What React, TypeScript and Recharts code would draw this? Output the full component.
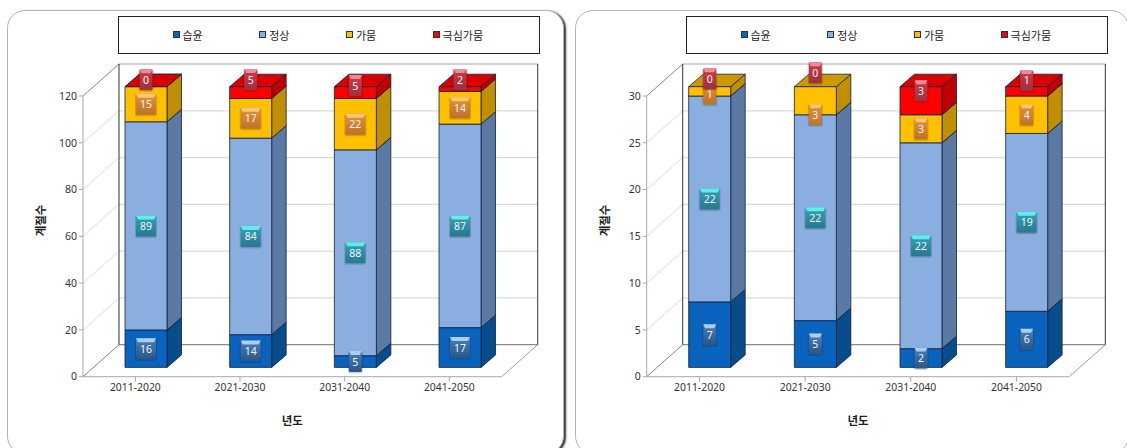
import { BarChart, Bar, XAxis, YAxis, CartesianGrid, Legend, LabelList } from "recharts";

const periods = ["2011-2020", "2021-2030", "2031-2040", "2041-2050"];
const seriesNames = ["습윤", "정상", "가뭄", "극심가뭄"];

const leftWet = [16, 14, 5, 17];
const leftNormal = [89, 84, 88, 87];
const leftDry = [15, 17, 22, 14];
const leftExtreme = [0, 5, 5, 2];
const leftTicks = [0, 20, 40, 60, 80, 100, 120];

const rightWet = [7, 5, 2, 6];
const rightNormal = [22, 22, 22, 19];
const rightDry = [1, 3, 3, 4];
const rightExtreme = [0, 0, 3, 1];
const rightTicks = [0, 5, 10, 15, 20, 25, 30];

// the badges were dragged by hand in the original, so a few sit off centre
const leftNudge = { extreme: [-7, -13, -7, -9.5], dry: [0, 0, 0, 0] };
const rightNudge = { extreme: [-8, -14, -10, -11], dry: [2.5, 14, 0, 0] };

const toRows = (wet: number[], normal: number[], dry: number[], extreme: number[]) =>
  periods.map((period, i) => ({
    period,
    wet: wet[i],
    normal: normal[i],
    dry: dry[i],
    extreme: extreme[i],
  }));

const CHART_H = 448;
const BAR_DX = 14.5;
const BAR_DY = 12.5;
const FONT = '"Noto Sans", "Noto Sans CJK KR", sans-serif';

const looks: Record<string, { front: string; side: string; top: string; badge: string }> = {
  wet: { front: "#0A63BC", side: "#084C8C", top: "#0A5AA8", badge: "wet" },
  normal: { front: "#8BAEE0", side: "#5A7AA4", top: "#7C9CCB", badge: "normal" },
  dry: { front: "#FFC000", side: "#BF8F00", top: "#CC9A00", badge: "dry" },
  extreme: { front: "#FF0000", side: "#C00000", top: "#D80000", badge: "extreme" },
};

const badgeColors: Record<string, string[]> = {
  wet: ["#4A7FB5", "#2A5688", "#A9CFEA"],
  normal: ["#35A3B5", "#27788F", "#62ECF0"],
  dry: ["#E5923C", "#BD7228", "#F7C878"],
  extreme: ["#CE3A48", "#9E3040", "#EE8C94"],
};

function Block(props: any) {
  const { x, y, width, height, look, showTop, shiftX, shiftY } = props;
  const c = looks[look];
  const l = x + shiftX;
  const t = y + shiftY;
  const r = l + width;
  const b = t + height;
  const edge = "#10213F";
  return (
    <g stroke={edge} strokeWidth={0.8} strokeLinejoin="round">
      {height > 0 && (
        <polygon
          points={`${r},${t} ${r + BAR_DX},${t - BAR_DY} ${r + BAR_DX},${b - BAR_DY} ${r},${b}`}
          fill={c.side}
        />
      )}
      {showTop && (
        <polygon
          points={`${l},${t} ${l + BAR_DX},${t - BAR_DY} ${r + BAR_DX},${t - BAR_DY} ${r},${t}`}
          fill={c.top}
        />
      )}
      {height > 0 && <rect x={l} y={t} width={width} height={height} fill={c.front} />}
    </g>
  );
}

function Badge(props: any) {
  const { x, y, width, height, value, index, look, nudge, shiftX, shiftY } = props;
  const text = String(value);
  const w = text.length > 1 ? 20 : 13;
  const h = 21;
  const cx = x + width / 2 + shiftX;
  const cy = y + height / 2 + shiftY + (nudge ? nudge[index] : 0);
  const left = cx - w / 2;
  const top = cy - h / 2;
  const strip = badgeColors[look][2];
  return (
    <g>
      <rect x={left - 1} y={top} width={w + 2} height={h + 1.5} rx={2} fill="#000" opacity={0.16} />
      <rect x={left} y={top} width={w} height={h} rx={1.5} fill={`url(#badge-${look})`} />
      <polygon
        points={`${left},${top} ${left + w},${top} ${left + w - 2},${top + 4} ${left + 2},${top + 4}`}
        fill={strip}
      />
      <text
        x={cx}
        y={cy + 4}
        textAnchor="middle"
        fontFamily={FONT}
        fontSize={10.5}
        fill="#F2F6F8"
      >
        {text}
      </text>
    </g>
  );
}

function LegendBox({ payload }: any) {
  return (
    <div
      style={{
        boxSizing: "border-box",
        width: 422,
        height: 38,
        border: "1px solid #222",
        background: "#fff",
        display: "flex",
        alignItems: "center",
        paddingLeft: 54,
      }}
    >
      {(payload ?? []).map((item: any) => (
        <div
          key={item.value}
          style={{
            width: 86.7,
            display: "flex",
            alignItems: "center",
            fontFamily: FONT,
            fontSize: 11,
            color: "#222",
            whiteSpace: "nowrap",
          }}
        >
          <span
            style={{
              boxSizing: "border-box",
              width: 7,
              height: 7,
              marginRight: 3,
              background: item.color,
              border: "1px solid #1F3556",
            }}
          />
          {item.value}
        </div>
      ))}
    </div>
  );
}

function GridLine(props: any, wallX: number, wallY: number, top: number, bottom: number) {
  const { x1, x2, y1 } = props;
  const bx1 = x1 + wallX;
  const bx2 = x2 + wallX;
  const isFloor = Math.abs(y1 - bottom) < 1;
  const isRoof = Math.abs(y1 - top) < 1;
  return (
    <g key={props.key ?? y1} fill="none">
      {!isFloor && !isRoof && (
        <>
          <line x1={bx1} y1={y1 - wallY} x2={bx2} y2={y1 - wallY} stroke="#DEDBD6" strokeWidth={1.2} />
          <line x1={x1} y1={y1} x2={bx1} y2={y1 - wallY} stroke="#EFEFEF" strokeWidth={2} />
        </>
      )}
      {isRoof && (
        <>
          <line x1={bx1} y1={y1 - wallY} x2={bx2} y2={y1 - wallY} stroke="#A8A8A8" strokeWidth={1} />
          <line x1={x1} y1={y1} x2={bx1} y2={y1 - wallY} stroke="#666" strokeWidth={0.8} />
          <line x1={bx1} y1={y1 - wallY} x2={bx1} y2={bottom - wallY} stroke="#333" strokeWidth={1} />
          <line x1={bx2} y1={y1 - wallY} x2={bx2} y2={bottom - wallY} stroke="#333" strokeWidth={1} />
        </>
      )}
      {isFloor && (
        <>
          <line x1={bx1} y1={y1 - wallY} x2={bx2} y2={y1 - wallY} stroke="#8F8A84" strokeWidth={1.3} />
          <line x1={x1} y1={y1} x2={bx1} y2={y1 - wallY} stroke="#666" strokeWidth={0.8} />
          <line x1={x2} y1={y1} x2={bx2} y2={y1 - wallY} stroke="#A0A0A0" strokeWidth={1} />
        </>
      )}
    </g>
  );
}

interface PanelProps {
  rows: ReturnType<typeof toRows>;
  ticks: number[];
  maxValue: number;
  originX: number;
  chartW: number;
  plotLeft: number;
  plotRight: number;
  wallX: number;
  barShiftX: number;
  zeroTop: boolean;
  nudge: { extreme: number[]; dry: number[] };
  legendLeft: number;
}

function Panel(p: PanelProps) {
  const plotTop = 96;
  const plotBottom = 376.7;
  const keys = ["wet", "normal", "dry", "extreme"];
  return (
    <div style={{ position: "absolute", left: p.originX, top: 0 }}>
      <BarChart
        width={p.chartW}
        height={CHART_H}
        data={p.rows}
        barSize={42}
        margin={{
          top: plotTop,
          bottom: CHART_H - plotBottom - 60,
          left: p.plotLeft - 60,
          right: p.chartW - p.plotRight,
        }}
      >
        <defs>
          {keys.map((k) => (
            <linearGradient key={k} id={`badge-${k}`} x1="0" y1="0" x2="0" y2="1">
              <stop offset="0%" stopColor={badgeColors[k][0]} />
              <stop offset="100%" stopColor={badgeColors[k][1]} />
            </linearGradient>
          ))}
        </defs>
        <CartesianGrid
          vertical={false}
          horizontal={(props: any) => GridLine(props, p.wallX, 32, plotTop, plotBottom)}
        />
        <XAxis
          dataKey="period"
          height={60}
          axisLine={{ stroke: "#A8A8A8" }}
          tickLine={{ stroke: "#A8A8A8" }}
          tickSize={5}
          tick={{ fill: "#333", fontSize: 10.4, fontFamily: FONT }}
          interval={0}
          label={{
            value: "년도",
            position: "insideBottom",
            offset: 12,
            fill: "#222",
            fontSize: 11.5,
            fontWeight: 700,
            fontFamily: FONT,
          }}
        />
        <YAxis
          width={60}
          domain={[0, p.maxValue]}
          ticks={p.ticks}
          axisLine={{ stroke: "#A8A8A8" }}
          tickLine={{ stroke: "#A8A8A8" }}
          tickSize={4}
          tick={{ fill: "#333", fontSize: 10.5, fontFamily: FONT }}
          label={{
            value: "계절수",
            angle: -90,
            position: "insideLeft",
            offset: 18,
            fill: "#222",
            fontSize: 11.5,
            fontWeight: 700,
            fontFamily: FONT,
          }}
        />
        <Legend
          layout="horizontal"
          verticalAlign="middle"
          itemSorter={null}
          wrapperStyle={{ position: "absolute", left: p.legendLeft, top: 15.5, width: 422, height: 38 }}
          content={(props: any) => <LegendBox {...props} />}
        />
        {keys.map((k, i) => (
          <Bar
            key={k}
            dataKey={k}
            name={seriesNames[i]}
            stackId="a"
            fill={looks[k].front}
            isAnimationActive={false}
            shape={(props: any) => (
              <Block
                {...props}
                look={k}
                shiftX={p.barShiftX}
                shiftY={-9.3}
                showTop={k === "extreme" ? p.zeroTop || props.height > 0 : true}
              />
            )}
          >
            <LabelList
              dataKey={k}
              content={(props: any) => (
                <Badge
                  {...props}
                  look={k}
                  shiftX={p.barShiftX}
                  shiftY={-9.3}
                  nudge={(p.nudge as any)[k]}
                />
              )}
            />
          </Bar>
        ))}
      </BarChart>
    </div>
  );
}

export default function App() {
  return (
    <div
      style={{
        position: "absolute",
        left: 0,
        top: 0,
        width: 1127,
        height: 448,
        overflow: "hidden",
        background: "#fff",
      }}
    >
      <div
        style={{
          position: "absolute",
          left: 7,
          top: 10,
          width: 555,
          height: 442,
          borderRadius: 18,
          border: "1px solid #B4B4B4",
          boxShadow: "2px 1px 2px #333",
          background: "#fff",
        }}
      />
      <div
        style={{
          position: "absolute",
          left: 575,
          top: 10,
          width: 552,
          height: 442,
          borderRadius: 18,
          border: "1px solid #B4B4B4",
          background: "#fff",
        }}
      />
      <Panel
        rows={toRows(leftWet, leftNormal, leftDry, leftExtreme)}
        ticks={leftTicks}
        maxValue={120}
        originX={0}
        chartW={563}
        plotLeft={83}
        plotRight={501.7}
        wallX={36}
        barShiftX={11}
        zeroTop
        nudge={leftNudge}
        legendLeft={117.5}
      />
      <Panel
        rows={toRows(rightWet, rightNormal, rightDry, rightExtreme)}
        ticks={rightTicks}
        maxValue={30}
        originX={564}
        chartW={563}
        plotLeft={646.7 - 564}
        plotRight={1069.3 - 564}
        wallX={36}
        barShiftX={10}
        zeroTop={false}
        nudge={rightNudge}
        legendLeft={685.5 - 564}
      />
    </div>
  );
}
